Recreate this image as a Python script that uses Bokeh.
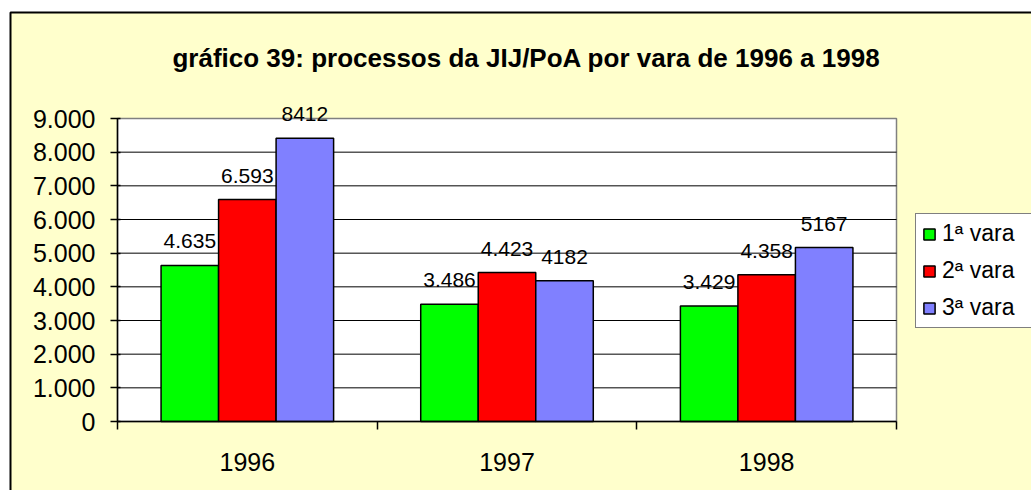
from bokeh.plotting import figure
from bokeh.models import (Range1d, FixedTicker, Legend, LegendItem, LabelSet,
                          ColumnDataSource, Label, BoxAnnotation, LinearAxis)
from bokeh.core.properties import value
from bokeh.embed import file_html
from bokeh.resources import INLINE

# ---------------- data ----------------
years = ["1996", "1997", "1998"]
series_names = ["1ª vara", "2ª vara", "3ª vara"]
vara1 = [4635, 3486, 3429]
vara2 = [6593, 4423, 4358]
vara3 = [8412, 4182, 5167]
vara1_labels = ["4.635", "3.486", "3.429"]
vara2_labels = ["6.593", "4.423", "4.358"]
vara3_labels = ["8412", "4182", "5167"]
y_ticks = [0, 1000, 2000, 3000, 4000, 5000, 6000, 7000, 8000, 9000]
y_tick_labels = ["0", "1.000", "2.000", "3.000", "4.000", "5.000",
                 "6.000", "7.000", "8.000", "9.000"]
title_text = "gráfico 39: processos da JIJ/PoA por vara de 1996 a 1998"

# ---------------- layout / style ----------------
FONT = "Liberation Sans"
colors = ["#00FF00", "#FF0000", "#8080FF"]
BAR_W = 0.2215
W, H = 1031, 490
PX0, PX1 = 117, 896      # pixel x of plot-area left / right
PY0, PY1 = 421, 118      # pixel y of value 0 / top value
n = len(years)
ymax = y_ticks[-1]
kx = (PX1 - PX0) / n
ky = (PY0 - PY1) / ymax
x_range = Range1d(-PX0 / kx, n + (W - PX1) / kx)
y_range = Range1d(-(H - PY0) / ky, ymax + PY1 / ky)

p = figure(width=W, height=H, output_backend="svg", toolbar_location=None,
           title=None, x_range=x_range, y_range=y_range,
           x_axis_location=None, y_axis_location=None,
           min_border_left=0, min_border_right=0, min_border_top=0, min_border_bottom=0,
           background_fill_color="white", border_fill_color="white",
           outline_line_color=None)
p.grid.visible = False

# chart area (yellow panel with black frame)
p.add_layout(BoxAnnotation(left=10, right=W + 60, top=12, bottom=H + 60,
                           left_units="canvas", right_units="canvas",
                           top_units="canvas", bottom_units="canvas",
                           fill_color="#FFFFCC", fill_alpha=1,
                           line_color="black", line_alpha=1, line_width=2,
                           level="underlay"))

# plot area
p.quad(left=[0], right=[n], bottom=[0], top=[ymax], fill_color="white",
       line_color="#808080", line_width=1.5)
grid_vals = y_ticks[1:-1]
p.segment(x0=[0] * len(grid_vals), x1=[n] * len(grid_vals), y0=grid_vals, y1=grid_vals,
          line_color="black", line_width=1)

centers = [i + 0.5 for i in range(n)]
all_vals = [vara1, vara2, vara3]
all_labels = [vara1_labels, vara2_labels, vara3_labels]
renderers = []
for k, (vals, labs, col) in enumerate(zip(all_vals, all_labels, colors)):
    off = (k - 1) * BAR_W
    src = ColumnDataSource(dict(x=[c + off for c in centers], top=vals, lab=labs))
    r = p.vbar(x="x", top="top", width=BAR_W, source=src, fill_color=col,
               line_color="black", line_width=1.5)
    renderers.append(r)
    p.add_layout(LabelSet(x="x", y="top", text="lab", source=src, text_align="center",
                          text_baseline="alphabetic", y_offset=17,
                          text_font=value(FONT), text_font_size="21px",
                          text_color="black"))

# y axis
yax = LinearAxis(fixed_location=0, bounds=(0, ymax),
                 ticker=FixedTicker(ticks=y_ticks),
                 major_label_overrides={t: l for t, l in zip(y_ticks, y_tick_labels)},
                 major_label_text_font=FONT, major_label_text_font_size="25px",
                 major_label_text_color="black",
                 axis_line_color="black", axis_line_width=1.5,
                 major_tick_line_color="black", major_tick_line_width=1.5,
                 major_tick_out=7, major_tick_in=3,
                 minor_tick_line_color=None, major_label_standoff=15)
p.add_layout(yax, "left")

# x axis
xax = LinearAxis(fixed_location=0, bounds=(0, n),
                 ticker=FixedTicker(ticks=centers, minor_ticks=list(range(n + 1))),
                 major_label_overrides={c: y for c, y in zip(centers, years)},
                 major_label_text_font=FONT, major_label_text_font_size="25px",
                 major_label_text_color="black",
                 axis_line_color="black", axis_line_width=1.5,
                 major_tick_line_color=None, major_tick_out=0, major_tick_in=0,
                 minor_tick_line_color="black", minor_tick_line_width=1.5,
                 minor_tick_out=8, minor_tick_in=0, major_label_standoff=23)
p.add_layout(xax, "below")

# legend
legend = Legend(items=[LegendItem(label=nm, renderers=[r]) for nm, r in zip(series_names, renderers)],
                location=(915, 162), margin=0, padding=6, spacing=10,
                glyph_width=14, glyph_height=14, label_standoff=6, label_width=130,
                label_text_font=FONT, label_text_font_size="23px", label_text_color="black",
                border_line_color="black", border_line_width=1.5,
                background_fill_color="white", background_fill_alpha=1.0)
p.add_layout(legend)

# title
p.add_layout(Label(x=526, y=57, x_units="canvas", y_units="canvas", text=title_text,
                   text_align="center", text_baseline="alphabetic",
                   text_font=FONT, text_font_size="26px", text_font_style="bold",
                   text_color="black"))

open("out.html", "w").write(file_html(p, INLINE))
